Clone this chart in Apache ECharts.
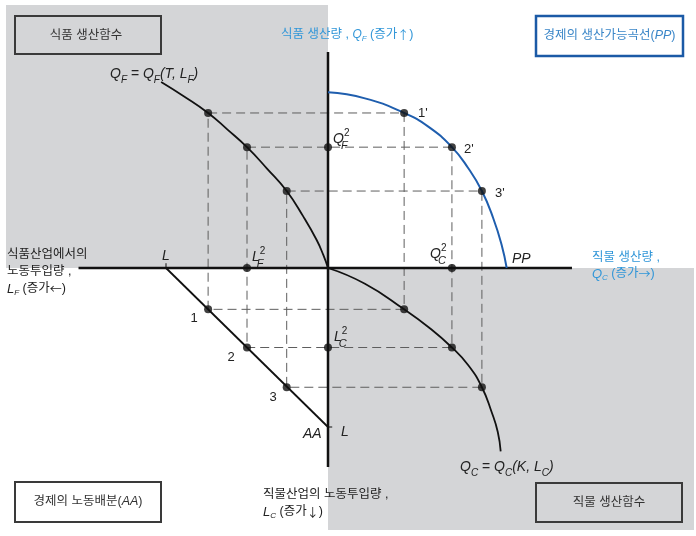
<!DOCTYPE html>
<html><head><meta charset="utf-8">
<script src="https://cdn.jsdelivr.net/npm/echarts@6/dist/echarts.min.js"></script>
<style>html,body{margin:0;padding:0;background:#fff}#c{width:696px;height:536px}</style>
</head><body><div id="c"></div>
<script>
// ---------- data (economic units; total labour L = 100) ----------
const laborTotal = 100;
const allocNames = ['1', '2', '3'];
const ppNames = ["1'", "2'", "3'"];
const allocLF = [74, 50, 25.5];      // labour in food at allocations 1,2,3
const allocLC = [26, 50, 75];        // labour in cloth
const outputQF = [97.5, 76, 48.4];   // food output
const outputQC = [47, 76.5, 95];     // cloth output
const highlighted = 1;               // allocation 2 is marked on the axes
// food production function Q_F(T, L_F)
const foodLF = [103, 89.3, 74, 62.2, 50, 37.8, 25.5, 15.2, 7, 2.9, 0];
const foodQF = [117, 108.2, 97.5, 87.2, 76, 62.7, 48.4, 32.3, 17.6, 8.2, 0];
// production possibility frontier PP
const ppQC = [0, 22.8, 47, 61.9, 76.5, 86.6, 95, 102, 107.2, 110.3];
const ppQF = [110.5, 106.7, 97.5, 88.9, 76, 62.7, 48.4, 31.3, 14.5, 0];
// cloth production function Q_C(K, L_C)
const clothLC = [0, 9.9, 26, 37.1, 50, 61.2, 75, 90.6, 103.1, 115.3];
const clothQC = [0, 22.8, 47, 61.9, 76.5, 86.6, 95, 101, 104.8, 106.6];

// ---------- layout ----------
const W = 696, H = 536, OX = 328, OY = 268, SX = 1.62, SY = 1.59;
const GRAY = '#d4d5d7';
const FAM = '"Liberation Sans", "Noto Sans CJK KR", sans-serif';
const KR = '12.5px ' + FAM;
const ARW = '12px "Noto Sans CJK KR", sans-serif';
const IT = 'italic 14px ' + FAM;
const ITB = 'italic 12.5px ' + FAM;
const UP = '14px ' + FAM;
const SUB = 'italic 10px ' + FAM;
const SUBS = 'italic 11px ' + FAM;
const SUP = '10px ' + FAM;
const NUM = '13px ' + FAM;
const BLUE_T = '#3196d8';
const INK = '#222';

const chart = echarts.init(document.getElementById('c'), null, {renderer: 'canvas'});

const dashSeries = allocLF.map((lf, i) => ({
  type: 'line', symbol: 'none', z: 2, silent: true,
  lineStyle: {color: '#5e5e5e', width: 1, type: [9, 5]},
  data: [[-lf, outputQF[i]], [outputQC[i], outputQF[i]], [outputQC[i], -allocLC[i]],
         [-lf, -allocLC[i]], [-lf, outputQF[i]]]
}));

const solid = (data, color, width, extra) => Object.assign({
  type: 'line', symbol: 'none', z: 4, silent: true,
  lineStyle: {color, width}, data
}, extra || {});

const dots = [];
allocLF.forEach((lf, i) => {
  dots.push([-lf, outputQF[i]], [outputQC[i], outputQF[i]], [outputQC[i], -allocLC[i]], [-lf, -allocLC[i]]);
});
dots.push([-allocLF[highlighted], 0], [0, outputQF[highlighted]], [outputQC[highlighted], 0], [0, -allocLC[highlighted]]);

// ---------- text helpers ----------
const ctx = document.createElement('canvas').getContext('2d');
function tw(s, f) { ctx.font = f; return ctx.measureText(s).width; }
function txt(x, y, s, font, color, align) {
  return {type: 'text', x, y, z: 100, silent: true,
    style: {text: s, font, fill: color || INK, textAlign: align || 'left', textVerticalAlign: 'middle'}};
}
function run(x, y, parts, color) {
  const els = []; let cx = x;
  for (const [s, f, dy] of parts) { els.push(txt(cx, y + (dy || 0), s, f, color)); cx += tw(s, f); }
  return els;
}
function runC(cx, y, parts, color) {
  const total = parts.reduce((a, p) => a + tw(p[0], p[1]), 0);
  return run(cx - total / 2, y, parts, color);
}
function stack(x, y, main, sub, sup) {
  const w = tw(main, IT);
  return [txt(x, y, main, IT), txt(x + w, y - 6, sup, SUP), txt(x + w - 3, y + 7, sub, SUBS)];
}
function box(x, y, w, h, fill, stroke, lw) {
  return {type: 'rect', z: 90, silent: true, shape: {x, y, width: w, height: h},
    style: {fill, stroke, lineWidth: lw}};
}

const g = [];
g.push(box(15, 16, 146, 38, GRAY, '#3a3a3a', 2));
g.push(txt(86, 36, '식품 생산함수', KR, '#333', 'center'));
g.push(box(536, 16, 147, 40, '#fff', '#1b5aa6', 2.5));
g.push(...runC(609.5, 36, [['경제의 생산가능곡선(', KR], ['PP', ITB], [')', KR]], '#3a86c8'));
g.push(box(15, 482, 146, 40, '#fff', '#3a3a3a', 2));
g.push(...runC(88, 502, [['경제의 노동배분(', KR], ['AA', ITB], [')', KR]], '#333'));
g.push(box(536, 483, 146, 39, GRAY, '#3a3a3a', 2));
g.push(txt(609, 502.5, '직물 생산함수', KR, '#333', 'center'));

// axis titles
g.push(...run(281, 35, [['식품 생산량 , ', KR], ['Q', 'italic 12px ' + FAM], ['F', 'italic 8px ' + FAM, 4], [' (증가', KR], ['↑', ARW], [')', KR]], BLUE_T));
g.push(txt(592, 258, '직물 생산량 ,', KR, BLUE_T));
g.push(...run(592, 274, [['Q', 'italic 13px ' + FAM], ['C', 'italic 8px ' + FAM, 4], [' (증가', KR], ['→', ARW], [')', KR]], BLUE_T));
g.push(txt(7, 255, '식품산업에서의', KR));
g.push(txt(7, 272, '노동투입량 ,', KR));
g.push(...run(7, 289, [['L', 'italic 13px ' + FAM], ['F', 'italic 8px ' + FAM, 4], [' (증가', KR], ['←', ARW], [')', KR]]));
g.push(txt(263, 495, '직물산업의 노동투입량 ,', KR));
g.push(...run(263, 512, [['L', 'italic 13px ' + FAM], ['C', 'italic 8px ' + FAM, 4], [' (증가', KR], ['↓', ARW], [')', KR]]));

// function labels
g.push(...run(110, 74, [['Q', IT], ['F', SUB, 6], [' = ', UP], ['Q', IT], ['F', SUB, 6], ['(T, L', IT], ['F', SUB, 6], [')', IT]]));
g.push(...run(460, 467, [['Q', IT], ['C', SUB, 6], [' = ', UP], ['Q', IT], ['C', SUB, 6], ['(K, L', IT], ['C', SUB, 6], [')', IT]]));
g.push(txt(512, 259, 'PP', IT));
g.push(txt(166, 256, 'L', IT, INK, 'center'));
g.push(txt(341, 432, 'L', IT));
g.push(txt(303, 434, 'AA', IT));

// stacked labels at allocation 2
g.push(...stack(333, 139, 'Q', 'F', '2'));
g.push(...stack(430, 254, 'Q', 'C', '2'));
g.push(...stack(252, 257, 'L', 'F', '2'));
g.push(...stack(334, 337, 'L', 'C', '2'));

// point numbers
const ppLabelPos = [[418, 113], [464, 149], [495, 193]];
const aaLabelPos = [[194, 318], [231, 357], [273, 397]];
ppNames.forEach((s, i) => g.push(txt(ppLabelPos[i][0], ppLabelPos[i][1], s, NUM)));
allocNames.forEach((s, i) => g.push(txt(aaLabelPos[i][0], aaLabelPos[i][1], s, NUM, INK, 'center')));

chart.setOption({
  animation: false,
  grid: {left: 0, right: 0, top: 0, bottom: 0},
  xAxis: {type: 'value', min: -OX / SX, max: (W - OX) / SX, show: false},
  yAxis: {type: 'value', min: -(H - OY) / SY, max: OY / SY, show: false},
  series: [
    {type: 'line', symbol: 'none', z: 0, silent: true, data: [[0, 0]], lineStyle: {width: 0},
      markArea: {silent: true, itemStyle: {color: GRAY, opacity: 1},
        data: [[{coord: [(6 - OX) / SX, (OY - 5) / SY]}, {coord: [0, 0]}],
               [{coord: [0, 0]}, {coord: [(694 - OX) / SX, (OY - 530) / SY]}]]}},
    ...dashSeries,
    solid([[-154, 0], [150.6, 0]], '#111', 2.5),
    solid([[0, 135.8], [0, -125.2]], '#111', 2.5),
    solid([[-laborTotal, 0], [-laborTotal, 3]], '#111', 1),
    solid([[0, -laborTotal], [2.6, -laborTotal]], '#111', 1),
    solid(foodLF.map((v, i) => [-v, foodQF[i]]), '#111', 1.8, {smooth: 0.5}),
    solid(ppQC.map((v, i) => [v, ppQF[i]]), '#1f5eae', 2, {smooth: 0.5}),
    solid(clothQC.map((v, i) => [v, -clothLC[i]]), '#111', 1.8, {smooth: 0.5}),
    solid([[-laborTotal, 0], [0, -laborTotal]], '#111', 1.8),
    {type: 'scatter', z: 6, silent: true, symbolSize: 8, itemStyle: {color: '#111'}, data: dots}
  ],
  graphic: {elements: g}
});
</script></body></html>
